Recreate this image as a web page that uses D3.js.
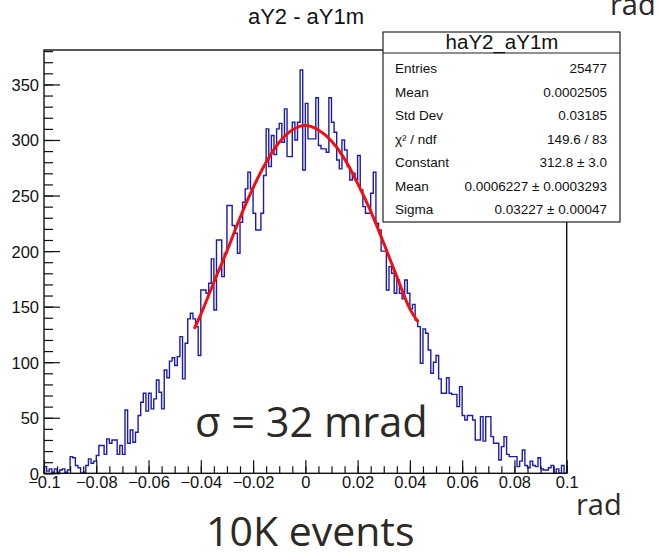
<!DOCTYPE html>
<html lang="en">
<head>
<meta charset="UTF-8">
<title>aY2 - aY1m</title>
<script src="https://d3js.org/d3.v7.min.js"></script>
<style>
  body { margin: 0; background: #fff; }
  .hist { fill: none; stroke: #1c1ca8; stroke-width: 1.4px; }
  .fit { fill: none; stroke: #f01010; stroke-width: 3px; }
  .axis text { font-family: "Liberation Sans", Arial, sans-serif; font-size: 16.5px; fill: #111; }
  .axis line { stroke: #111; stroke-width: 1.2px; }
  .stats text { font-family: "Liberation Sans", Arial, sans-serif; fill: #111; }
  .slide { font-family: "Open Sans", sans-serif; fill: #2d2a26; }
</style>
</head>
<body>
<svg id="chart" width="660" height="553"></svg>
<script>
// histogram haY2_aY1m : 200 bins from -0.1 to 0.1
const binLow = -0.1, binWidth = 0.001;
const counts = [
  6, 2, 4, 1, 4, 1, 3, 4, 1, 3,
  15, 14, 7, 5, 0, 1, 7, 13, 9, 11,
  16, 25, 25, 17, 31, 27, 30, 30, 17, 25,
  17, 57, 27, 39, 28, 37, 52, 64, 72, 56,
  72, 58, 67, 84, 73, 58, 93, 86, 101, 104,
  97, 105, 123, 85, 117, 139, 144, 139, 132, 106,
  165, 165, 162, 171, 193, 147, 210, 210, 177, 198,
  241, 241, 223, 216, 198, 226, 244, 256, 271, 256,
  234, 219, 219, 234, 268, 310, 276, 304, 287, 310,
  315, 298, 328, 285, 285, 316, 300, 316, 363, 273,
  333, 301, 301, 301, 338, 295, 292, 292, 289, 338,
  316, 307, 282, 274, 300, 291, 276, 264, 270, 264,
  286, 255, 240, 234, 234, 252, 271, 225, 219, 200,
  200, 165, 186, 180, 162, 174, 162, 157, 174, 162,
  148, 152, 138, 132, 99, 130, 126, 111, 90, 100,
  106, 85, 72, 72, 86, 72, 71, 71, 60, 78,
  52, 48, 52, 52, 48, 30, 30, 51, 29, 51,
  51, 33, 27, 27, 12, 24, 33, 17, 15, 15,
  15, 6, 11, 21, 7, 5, 11, 7, 6, 14,
  4, 3, 3, 5, 7, 0, 4, 0, 7, 0
];

// gaussian fit curve
const fitX = [-0.0425, -0.04, -0.035, -0.03, -0.025, -0.02, -0.015, -0.01, -0.005, 0,
              0.005, 0.01, 0.015, 0.02, 0.025, 0.03, 0.035, 0.04, 0.0432];
const fitY = [130, 143, 172, 200, 230, 257, 280, 298, 309, 313,
              309, 299, 283, 261, 236, 207, 177, 148, 136];

const xTicks = [-0.1, -0.08, -0.06, -0.04, -0.02, 0, 0.02, 0.04, 0.06, 0.08, 0.1];
const xTickLabels = ["\u22120.1", "\u22120.08", "\u22120.06", "\u22120.04", "\u22120.02", "0",
                     "0.02", "0.04", "0.06", "0.08", "0.1"];
const yTicks = [0, 50, 100, 150, 200, 250, 300, 350];

const statLabels = ["Entries", "Mean", "Std Dev", "\u03c7\u00b2 / ndf", "Constant", "Mean", "Sigma"];
const statValues = ["25477", "0.0002505", "0.03185", "149.6 / 83", "312.8 \u00b1 3.0",
                    "0.0006227 \u00b1 0.0003293", "0.03227 \u00b1 0.00047"];

const svg = d3.select("#chart");
const frame = {left: 44, right: 566.7, top: 50, bottom: 473.3};

const x = d3.scaleLinear().domain([-0.1, 0.1]).range([frame.left, frame.right]);
const y = d3.scaleLinear().domain([0, 381]).range([frame.bottom, frame.top]);

// title
svg.append("text")
    .attr("x", 306).attr("y", 24)
    .attr("text-anchor", "middle")
    .style("font-family", "Liberation Sans, Arial, sans-serif")
    .style("font-size", "22px")
    .style("fill", "#111")
    .text("aY2 - aY1m");

// histogram outline
const pts = [[x(binLow), y(0)]];
counts.forEach((c, i) => {
    const x0 = binLow + i * binWidth;
    pts.push([x(x0), y(c)], [x(x0 + binWidth), y(c)]);
});
pts.push([x(binLow + counts.length * binWidth), y(0)]);

svg.append("path")
    .attr("class", "hist")
    .attr("d", d3.line()(pts));

// fit
svg.append("path")
    .attr("class", "fit")
    .attr("d", d3.line()
        .x((d, i) => x(fitX[i]))
        .y(d => y(d))
        .curve(d3.curveMonotoneX)(fitY));

// axes, ticks pointing inward like ROOT
svg.append("g").attr("class", "axis")
    .attr("transform", `translate(${frame.left},0)`)
    .call(d3.axisLeft(y).tickValues(d3.range(0, 381, 10)).tickSize(-9).tickFormat(""));
const yMajor = svg.append("g").attr("class", "axis")
    .attr("transform", `translate(${frame.left},0)`)
    .call(d3.axisLeft(y).tickValues(yTicks).tickSize(-16).tickPadding(5));

svg.append("g").attr("class", "axis")
    .attr("transform", `translate(0,${frame.bottom})`)
    .call(d3.axisBottom(x).tickValues(d3.range(-20, 21).map(k => k * 0.005)).tickSize(-7).tickFormat(""));
svg.append("g").attr("class", "axis")
    .attr("transform", `translate(0,${frame.bottom})`)
    .call(d3.axisBottom(x).tickValues(xTicks).tickSize(-13).tickPadding(3)
        .tickFormat((d, i) => xTickLabels[i]));

svg.selectAll(".axis .domain").remove();
yMajor.selectAll("text").attr("dy", "0.36em");

// frame
svg.append("rect")
    .attr("x", frame.left).attr("y", frame.top)
    .attr("width", frame.right - frame.left).attr("height", frame.bottom - frame.top)
    .attr("fill", "none").attr("stroke", "#111").attr("stroke-width", 1.4);

// stats box
const stats = svg.append("g").attr("class", "stats");
stats.append("rect")
    .attr("x", 383).attr("y", 32).attr("width", 237).attr("height", 190)
    .attr("fill", "#fff").attr("stroke", "#222").attr("stroke-width", 1.2);
stats.append("line")
    .attr("x1", 383).attr("x2", 620).attr("y1", 53).attr("y2", 53)
    .attr("stroke", "#222").attr("stroke-width", 1.2);
stats.append("text")
    .attr("x", 502).attr("y", 48.5).attr("text-anchor", "middle")
    .style("font-size", "20.5px").text("haY2_aY1m");

stats.selectAll(".lab").data(statLabels).join("text")
    .attr("class", "lab")
    .attr("x", 395).attr("y", (d, i) => 73 + i * 23.5)
    .style("font-size", "13.5px")
    .text(d => d);
stats.selectAll(".val").data(statValues).join("text")
    .attr("class", "val")
    .attr("x", 607).attr("y", (d, i) => 73 + i * 23.5)
    .attr("text-anchor", "end")
    .style("font-size", "13.5px")
    .text(d => d);

// slide annotations
svg.append("text").attr("class", "slide")
    .attr("x", 195).attr("y", 437).style("font-size", "41.5px")
    .text("\u03c3 = 32 mrad");
svg.append("text").attr("class", "slide")
    .attr("x", 206).attr("y", 546).style("font-size", "41px")
    .text("10K events");
svg.append("text").attr("class", "slide")
    .attr("x", 576).attr("y", 515).style("font-size", "29px")
    .text("rad");
svg.append("text").attr("class", "slide")
    .attr("x", 610).attr("y", 15).style("font-size", "29px")
    .text("rad");
</script>
</body>
</html>
